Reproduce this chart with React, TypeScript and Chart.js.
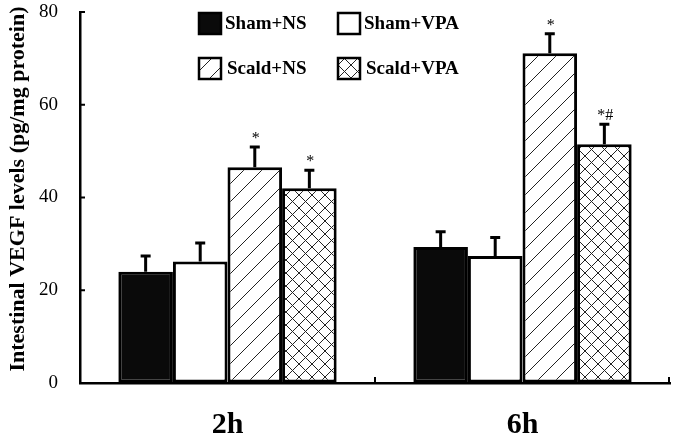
import React, { useEffect, useRef } from "react";
import { Chart, registerables } from "chart.js";

Chart.register(...registerables);

const categories = ["2h", "6h"];
const seriesNames = ["Sham+NS", "Sham+VPA", "Scald+NS", "Scald+VPA"];
const shamNS = [24.0, 29.3];
const shamNSErr = [3.4, 3.3];
const shamVPA = [26.2, 27.4];
const shamVPAErr = [4.0, 4.0];
const scaldNS = [46.5, 71.1];
const scaldNSErr = [4.4, 4.2];
const scaldVPA = [42.0, 51.5];
const scaldVPAErr = [3.9, 4.3];
const shamNSMarks = ["", ""];
const shamVPAMarks = ["", ""];
const scaldNSMarks = ["*", "*"];
const scaldVPAMarks = ["*", "*#"];
const yTicks = [0, 20, 40, 60, 80];
const yTitle = "Intestinal VEGF levels (pg/mg protein)";

const SERIF = '"Liberation Serif", "Times New Roman", serif';

function makePattern(spacing: number, cross: boolean) {
  const c = document.createElement("canvas");
  c.width = spacing;
  c.height = spacing;
  const g = c.getContext("2d")!;
  g.fillStyle = "#ffffff";
  g.fillRect(0, 0, spacing, spacing);
  g.strokeStyle = "#222222";
  g.lineWidth = 1;
  g.beginPath();
  for (const o of [-spacing, 0, spacing]) {
    g.moveTo(o, spacing);
    g.lineTo(o + spacing, 0);
    if (cross) {
      g.moveTo(o, 0);
      g.lineTo(o + spacing, spacing);
    }
  }
  g.stroke();
  return g.createPattern(c, "repeat")!;
}

export default function App() {
  const ref = useRef<HTMLCanvasElement | null>(null);

  useEffect(() => {
    const canvas = ref.current!;
    const hatch = makePattern(18, false);
    const cross = makePattern(13, true);
    const fills: any[] = ["#0a0a0a", "#ffffff", hatch, cross];
    const values = [shamNS, shamVPA, scaldNS, scaldVPA];
    const errs = [shamNSErr, shamVPAErr, scaldNSErr, scaldVPAErr];
    const marks = [shamNSMarks, shamVPAMarks, scaldNSMarks, scaldVPAMarks];

    const extras = {
      id: "extras",
      afterDatasetsDraw(chart: any) {
        const ctx = chart.ctx;
        const y = chart.scales.y;
        ctx.save();
        ctx.strokeStyle = "#000";
        ctx.lineWidth = 3;
        chart.data.datasets.forEach((ds: any, di: number) => {
          const meta = chart.getDatasetMeta(di);
          meta.data.forEach((el: any, i: number) => {
            const v = values[di][i];
            const top = y.getPixelForValue(v + errs[di][i]);
            const base = y.getPixelForValue(v);
            ctx.beginPath();
            ctx.moveTo(el.x, base);
            ctx.lineTo(el.x, top);
            ctx.moveTo(el.x - 5, top);
            ctx.lineTo(el.x + 5, top);
            ctx.stroke();
            const m = marks[di][i];
            if (m) {
              ctx.fillStyle = "#000";
              ctx.font = `16px ${SERIF}`;
              ctx.textAlign = "center";
              ctx.textBaseline = "alphabetic";
              ctx.fillText(m, el.x + 1, top - 4);
            }
          });
        });
        ctx.restore();
      },
      afterDraw(chart: any) {
        const ctx = chart.ctx;
        const a = chart.chartArea;
        const y = chart.scales.y;
        const x = chart.scales.x;
        ctx.save();
        ctx.strokeStyle = "#000";
        ctx.lineWidth = 2;
        ctx.beginPath();
        yTicks.forEach((t) => {
          const py = y.getPixelForValue(t);
          ctx.moveTo(a.left, py);
          ctx.lineTo(a.left + 5, py);
        });
        const mids: number[] = [];
        for (let i = 0; i < categories.length - 1; i++) {
          mids.push((x.getPixelForTick(i) + x.getPixelForTick(i + 1)) / 2);
        }
        mids.push(a.right - 1);
        mids.forEach((px) => {
          ctx.moveTo(px, a.bottom);
          ctx.lineTo(px, a.bottom - 6);
        });
        ctx.stroke();

        // y axis title
        ctx.save();
        ctx.translate(18, 189);
        ctx.rotate(-Math.PI / 2);
        ctx.font = `bold 22px ${SERIF}`;
        ctx.fillStyle = "#000";
        ctx.textAlign = "center";
        ctx.textBaseline = "middle";
        ctx.fillText(yTitle, 0, 0);
        ctx.restore();

        // legend
        const boxes = [
          [199, 13],
          [338, 13],
          [199, 58],
          [338, 58],
        ];
        ctx.font = `bold 19px ${SERIF}`;
        ctx.textAlign = "left";
        ctx.textBaseline = "middle";
        boxes.forEach(([bx, by], i) => {
          ctx.fillStyle = fills[i];
          ctx.fillRect(bx, by, 22, 21);
          ctx.lineWidth = 2.5;
          ctx.strokeStyle = "#000";
          ctx.strokeRect(bx, by, 22, 21);
          ctx.fillStyle = "#000";
          ctx.fillText(seriesNames[i], bx + (i >= 2 ? 28 : 26), by + 11);
        });
        ctx.restore();
      },
    };

    const chart = new Chart(canvas, {
      type: "bar",
      data: {
        labels: categories,
        datasets: values.map((vals, i) => ({
          label: seriesNames[i],
          data: vals,
          backgroundColor: fills[i],
          borderColor: "#000",
          borderWidth: 3,
          borderSkipped: false,
          categoryPercentage: 0.74,
          barPercentage: 1,
        })),
      },
      options: {
        animation: false,
        responsive: true,
        maintainAspectRatio: false,
        layout: { padding: { top: 12, right: 8, left: 0, bottom: 0 } },
        plugins: {
          legend: { display: false },
          tooltip: { enabled: false },
        },
        scales: {
          x: {
            grid: { display: true, drawOnChartArea: false, drawTicks: false },
            border: { display: true, color: "#000", width: 2.5 },
            ticks: {
              color: "#000",
              padding: 24,
              font: { family: SERIF, size: 30, weight: "bold" },
            },
            afterFit: (s: any) => {
              s.height = 58;
              s.paddingLeft = 0;
              s.paddingRight = 0;
            },
          },
          y: {
            min: 0,
            max: 80,
            grid: { display: true, drawOnChartArea: false, drawTicks: false },
            border: { display: true, color: "#000", width: 2.5 },
            ticks: {
              stepSize: 20,
              color: "#000",
              padding: 22,
              font: { family: SERIF, size: 19 },
            },
            afterFit: (s: any) => {
              s.width = 80;
              s.paddingTop = 0;
              s.paddingBottom = 0;
            },
          },
        },
      },
      plugins: [extras],
    });
    return () => chart.destroy();
  }, []);

  return (
    <div style={{ position: "fixed", left: 0, top: 0, width: 678, height: 441, background: "#fff" }}>
      <canvas ref={ref} />
    </div>
  );
}
